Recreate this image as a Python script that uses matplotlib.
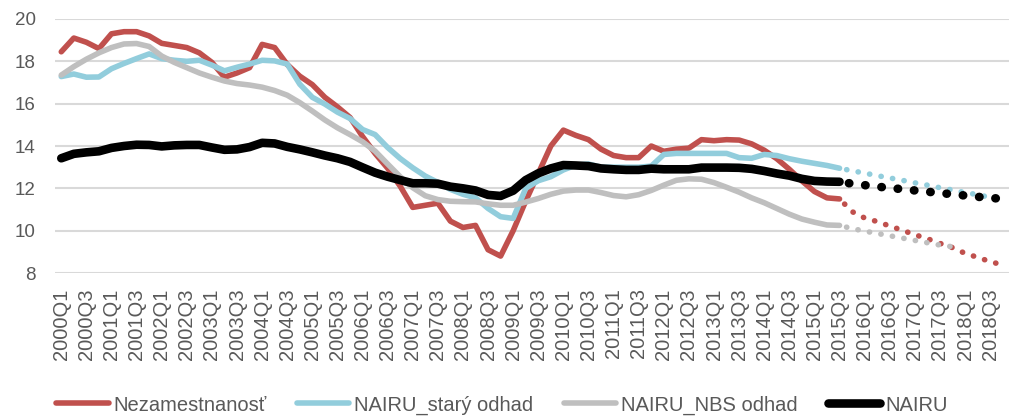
import matplotlib
matplotlib.use('Agg')
import matplotlib.pyplot as plt

plt.rcParams['font.family'] = ['Liberation Sans', 'DejaVu Sans']

# quarters 2000Q1 .. 2018Q4
quarters = [f'{y}Q{q}' for y in range(2000, 2019) for q in range(1, 5)]

# history 2000Q1 - 2015Q3
nezamestnanost = [
    18.45, 19.1, 18.9, 18.6, 19.3, 19.4, 19.4, 19.2, 18.85, 18.75,
    18.65, 18.4, 17.95, 17.25, 17.45, 17.7, 18.8, 18.65, 17.85, 17.3,
    16.9, 16.3, 15.85, 15.35, 14.45, 13.65, 12.95, 12.1, 11.1, 11.2,
    11.3, 10.45, 10.15, 10.25, 9.1, 8.8, 10.0, 11.4, 12.7, 14.0,
    14.75, 14.5, 14.3, 13.85, 13.55, 13.45, 13.45, 14.0, 13.75, 13.85,
    13.9, 14.3, 14.25, 14.3, 14.28, 14.1, 13.8, 13.4, 12.9, 12.35,
    11.85, 11.55, 11.5]
nairu_stary = [
    17.28, 17.4, 17.25, 17.26, 17.65, 17.9, 18.13, 18.35, 18.13, 18.05,
    18.0, 18.05, 17.82, 17.55, 17.72, 17.87, 18.05, 18.02, 17.87, 16.92,
    16.3, 15.98, 15.6, 15.3, 14.78, 14.54, 13.93, 13.41, 12.97, 12.58,
    12.28, 11.95, 11.72, 11.55, 11.05, 10.66, 10.58, 12.0, 12.36, 12.55,
    12.87, 13.1, 13.15, 13.0, 13.0, 13.0, 13.0, 13.05, 13.6, 13.65,
    13.65, 13.65, 13.65, 13.65, 13.45, 13.42, 13.6, 13.55, 13.4, 13.28,
    13.18, 13.08, 12.95]
nairu_nbs = [
    17.35, 17.75, 18.1, 18.4, 18.65, 18.82, 18.84, 18.7, 18.25, 17.95,
    17.7, 17.45, 17.25, 17.07, 16.95, 16.88, 16.78, 16.62, 16.4, 16.05,
    15.65, 15.23, 14.86, 14.54, 14.2, 13.76, 13.15, 12.55, 12.03, 11.65,
    11.47, 11.39, 11.37, 11.36, 11.27, 11.2, 11.2, 11.35, 11.52, 11.72,
    11.87, 11.92, 11.92, 11.8, 11.66, 11.6, 11.7, 11.9, 12.15, 12.38,
    12.45, 12.43, 12.27, 12.05, 11.82, 11.55, 11.32, 11.05, 10.78, 10.55,
    10.4, 10.27, 10.25]
nairu = [
    13.42, 13.63, 13.7, 13.75, 13.91, 14.0, 14.06, 14.05, 13.98, 14.03,
    14.05, 14.05, 13.93, 13.82, 13.84, 13.95, 14.15, 14.12, 13.96, 13.84,
    13.7, 13.55, 13.42, 13.25, 12.99, 12.74, 12.55, 12.39, 12.24, 12.24,
    12.22, 12.08, 12.0, 11.9, 11.69, 11.64, 11.89, 12.39, 12.71, 12.94,
    13.1, 13.08, 13.05, 12.94, 12.9, 12.87, 12.87, 12.93, 12.9, 12.9,
    12.9, 12.98, 12.98, 12.98, 12.97, 12.92, 12.82, 12.7, 12.6, 12.45,
    12.35, 12.32, 12.31]

# forecast from 2015Q3 onwards
nezamestnanost_f = [11.5, 10.9, 10.6, 10.43, 10.22, 10.02, 9.81, 9.62, 9.4,
                    9.2, 8.93, 8.74, 8.54, 8.38]
nairu_stary_f = [12.95, 12.83, 12.72, 12.6, 12.49, 12.38, 12.26, 12.15, 12.03,
                 11.92, 11.8, 11.7, 11.57, 11.45]
nairu_nbs_f = [10.25, 10.1, 9.98, 9.87, 9.76, 9.65, 9.54, 9.43, 9.32, 9.24]
nairu_f = [12.31, 12.22, 12.15, 12.08, 12.02, 11.96, 11.9, 11.84, 11.78,
           11.72, 11.66, 11.6, 11.55, 11.5]

series = [
    ('Nezamestnanosť', nezamestnanost, nezamestnanost_f, '#C0504D', 4.0),
    ('NAIRU_starý odhad', nairu_stary, nairu_stary_f, '#92CDDC', 4.0),
    ('NAIRU_NBS odhad', nairu_nbs, nairu_nbs_f, '#BFBFBF', 4.0),
    ('NAIRU', nairu, nairu_f, '#000000', 6.2),
]

fig = plt.figure(figsize=(10.09, 4.19), dpi=100)
ax = fig.add_axes([0.0545, 0.3484, 0.9455, 0.6063])

start = len(nezamestnanost) - 1
for name, hist, fc, color, lw in series:
    ax.plot(range(len(hist)), hist, color=color, lw=lw, label=name,
            solid_capstyle='round', solid_joinstyle='round')
    gap = 1.85 if lw > 5 else 2.05
    ax.plot(range(start, start + len(fc)), fc, color=color, lw=lw,
            linestyle=(0.8, (0.05, gap)), dash_capstyle='round')

ax.set_xlim(-0.5, len(quarters) - 0.5)
ax.set_ylim(8, 20)
ax.set_yticks(range(8, 21, 2))
ax.set_xticks(range(0, len(quarters), 2))
ax.set_xticklabels(quarters[::2], rotation=90)
ax.grid(axis='y', color='#D9D9D9', lw=1.5)
ax.set_axisbelow(True)
for s in ax.spines.values():
    s.set_visible(False)
ax.tick_params(axis='y', length=0, pad=14, labelsize=13.5, labelcolor='#595959')
ax.tick_params(axis='x', length=0, pad=11, labelsize=14.5, labelcolor='#595959')

leg = fig.legend(loc='center', bbox_to_anchor=(0.4975, 0.033), ncol=4,
                 frameon=False, fontsize=14.5, handlelength=2.6,
                 handletextpad=0.25, columnspacing=1.5, borderaxespad=0)
for t in leg.get_texts():
    t.set_color('#595959')

fig.savefig('out.png', dpi=100)
